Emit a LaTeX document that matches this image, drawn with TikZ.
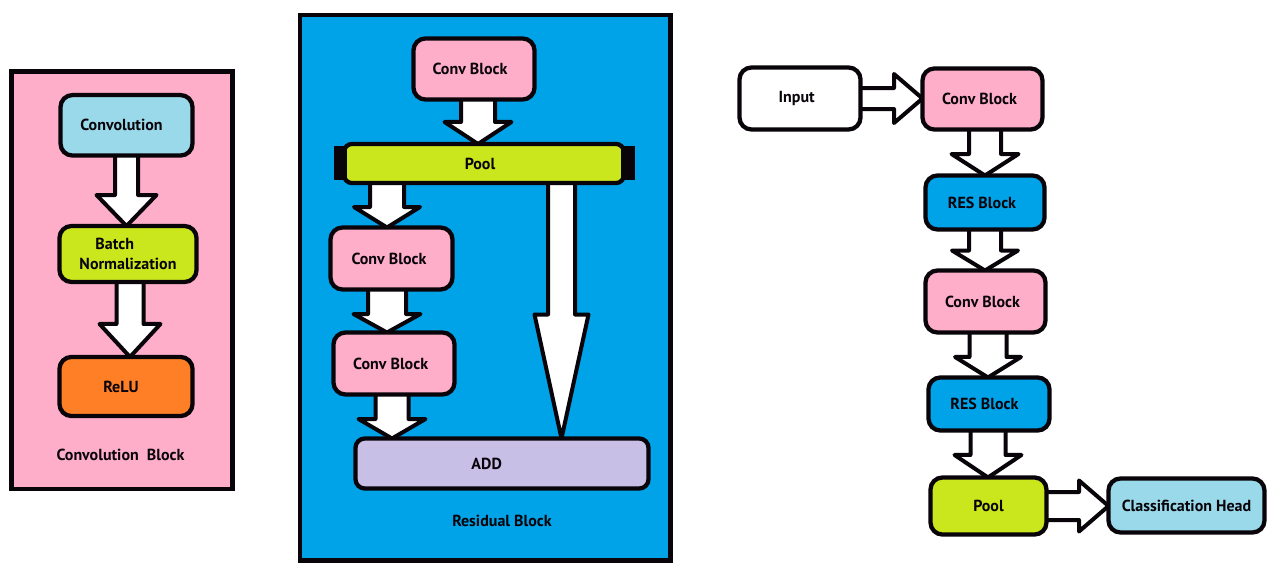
\documentclass[tikz,border=0pt]{standalone}
\usepackage{fontspec}
\setmainfont{PT Sans}
\usetikzlibrary{calc}
\definecolor{cpink}{RGB}{255,174,201}
\definecolor{cblue}{RGB}{153,217,234}
\definecolor{cblue2}{RGB}{0,162,232}
\definecolor{clime}{RGB}{202,230,29}
\definecolor{corange}{RGB}{255,127,39}
\definecolor{clav}{RGB}{200,191,231}
\definecolor{cblack}{RGB}{8,4,10}
\pgfdeclarelayer{bg}
\pgfdeclarelayer{arr}
\pgfsetlayers{bg,arr,main}
\newcommand\varrow[6]{% x, from, to, half shaft, half head, head length
  \coordinate (ax) at (#1,0);
  \draw[barrow] ($(ax |- #2.south)+(-#4,0)$) -- ($(ax |- #3.north)+(-#4,-#6)$)
    -- ($(ax |- #3.north)+(-#5,-#6)$) -- (ax |- #3.north)
    -- ($(ax |- #3.north)+(#5,-#6)$) -- ($(ax |- #3.north)+(#4,-#6)$)
    -- ($(ax |- #2.south)+(#4,0)$);}
\newcommand\harrow[6]{% y, from, to, half shaft, half head, head length
  \coordinate (ay) at (0,#1);
  \draw[barrow] ($(ay -| #2.east)+(0,-#4)$) -- ($(ay -| #3.west)+(-#6,-#4)$)
    -- ($(ay -| #3.west)+(-#6,-#5)$) -- (ay -| #3.west)
    -- ($(ay -| #3.west)+(-#6,#5)$) -- ($(ay -| #3.west)+(-#6,#4)$)
    -- ($(ay -| #2.east)+(0,#4)$);}
\begin{document}
\begin{tikzpicture}[x=0.75pt,y=-0.75pt,
  txt/.style={font=\bfseries\fontsize{12}{14}\selectfont, text=cblack},
  box/.style={txt, draw=cblack, line width=3.2pt, rounded corners=9pt, inner sep=0pt, outer sep=0pt},
  barrow/.style={draw=cblack, fill=white, line width=3pt, line join=round},
  panel/.style={draw=cblack, line width=3.4pt},
  lbl/.style={txt, inner sep=0pt}]
\useasboundingbox (0,0) rectangle (1282,575);
\begin{pgfonlayer}{bg}
  \fill[white] (0,0) rectangle (1282,575);
  \draw[panel, fill=cpink] (11.5,71.5) rectangle (232.5,489);
  \draw[panel, fill=cblue2] (300,15) rectangle (670.5,560.5);
\end{pgfonlayer}
% Convolution block panel
\node[box, fill=cblue, minimum width=99pt, minimum height=45.4pt] (conv) at (126.5,125.3) {Convolution\hspace*{7.5pt}};
\node[box, fill=clime, minimum width=102.8pt, minimum height=42pt, align=left,
      font=\bfseries\fontsize{12}{15}\selectfont] (bn) at (128,254) {\hspace*{12pt}Batch\\Normalization};
\node[box, fill=corange, minimum width=99.8pt, minimum height=44.3pt] (relu) at (126,386.5) {ReLU\hspace*{7.5pt}};
\node[lbl] (cbl) at (120.5,455) {Convolution\ \ Block};
% Residual block panel
\node[box, fill=cpink, minimum width=90.8pt, minimum height=45.8pt] (mc1) at (474,69) {Conv Block\hspace*{6pt}};
\node[box, fill=clime, rounded corners=6pt, minimum width=210pt, minimum height=29.3pt] (mpool) at (484,163.5) {Pool\hspace*{6pt}};
\fill[cblack] (334,146) rectangle (347,180);
\fill[cblack] (621,146) rectangle (635,180);
\node[box, fill=cpink, minimum width=91.5pt, minimum height=46.5pt] (mc2) at (391.5,258.5) {Conv Block\hspace*{3.8pt}};
\node[box, fill=cpink, minimum width=90.8pt, minimum height=46.5pt] (mc3) at (394,363.5) {Conv Block\hspace*{5pt}};
\node[box, fill=clav, rounded corners=7pt, minimum width=219.8pt, minimum height=37.5pt] (add) at (502,463.5) {ADD\hspace*{23pt}};
\node[lbl] (rbl) at (502,521) {Residual Block};
% Main network
\node[box, fill=white, minimum width=90.8pt, minimum height=46.5pt] (in) at (800,98.5) {Input\hspace*{5pt}};
\node[box, fill=cpink, minimum width=90pt, minimum height=45.8pt] (rc1) at (982.5,99) {Conv Block\hspace*{4.5pt}};
\node[box, fill=cblue2, minimum width=89.3pt, minimum height=40.5pt] (rr1) at (985,202.5) {RES Block\hspace*{4.5pt}};
\node[box, fill=cpink, minimum width=90pt, minimum height=46.5pt] (rc2) at (985.5,301.5) {Conv Block\hspace*{4.5pt}};
\node[box, fill=cblue2, minimum width=90.8pt, minimum height=39.8pt] (rr2) at (989,404) {RES Block\hspace*{6.8pt}};
\node[box, fill=clime, minimum width=87pt, minimum height=42.8pt] (rpool) at (988.5,506) {Pool};
\node[box, fill=cblue, minimum width=117pt, minimum height=40.5pt] (cls) at (1186.5,505.5) {Classification Head};
% Block arrows
\begin{pgfonlayer}{arr}
  \varrow{126.5}{conv}{bn}{11.5}{30}{31}
  \varrow{130}{bn}{relu}{13.5}{30.5}{33}
  \varrow{478}{mc1}{mpool}{17}{33.5}{22}
  \varrow{387}{mpool}{mc2}{17}{33}{20.5}
  \varrow{387}{mc2}{mc3}{19}{33.5}{18.5}
  \varrow{392}{mc3}{add}{16.5}{33.5}{19.5}
  \varrow{561.5}{mpool}{add}{13.5}{27}{124}
  \harrow{98.5}{in}{rc1}{10.5}{24.5}{28.5}
  \varrow{985}{rc1}{rr1}{16}{33.5}{21.5}
  \varrow{985}{rr1}{rc2}{16}{33}{20}
  \varrow{988}{rc2}{rr2}{18.5}{33}{20.5}
  \varrow{988}{rr2}{rpool}{17.5}{33.5}{22.5}
  \harrow{506}{rpool}{cls}{14}{25.5}{29.5}
\end{pgfonlayer}
\end{tikzpicture}
\end{document}
